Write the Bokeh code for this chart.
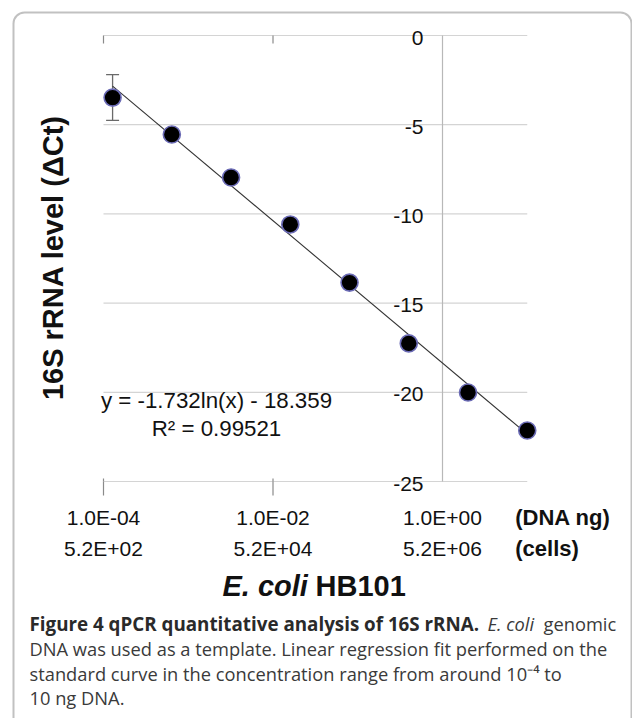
import numpy as np
from bokeh.plotting import figure
from bokeh.models import Range1d, ColumnDataSource, Whisker, TeeHead, BoxAnnotation
from bokeh.core.properties import value
from bokeh.embed import file_html
from bokeh.resources import INLINE

# ---------------- data ----------------
dna_ng = [1.28e-4, 6.4e-4, 3.2e-3, 1.6e-2, 8.0e-2, 0.4, 2.0, 10.0]
delta_ct = [-3.48, -5.55, -7.96, -10.59, -13.85, -17.26, -20.01, -22.14]
err_x = [1.28e-4]
err_upper = [-2.19]
err_lower = [-4.76]
fit_slope = -1.732
fit_intercept = -18.359
r_squared = 0.99521
x_ticks = [1e-4, 1e-2, 1.0]
x_tick_labels_ng = ["1.0E-04", "1.0E-02", "1.0E+00"]
x_tick_labels_cells = ["5.2E+02", "5.2E+04", "5.2E+06"]
x_unit_ng = "(DNA ng)"
x_unit_cells = "(cells)"
y_ticks = [0, -5, -10, -15, -20, -25]
y_tick_labels = ["0", "-5", "-10", "-15", "-20", "-25"]
x_min, x_max = 1e-4, 10.0
y_min, y_max = -25, 0
y_label = "16S rRNA level (\u0394Ct)"
title_ital = "E. coli"
title_rest = "HB101"
cap1_bold = "Figure 4 qPCR quantitative analysis of 16S rRNA."
cap1_ital = "E. coli"
cap1_rest = "genomic"
cap2 = "DNA was used as a template. Linear regression fit performed on the"
cap3 = "standard curve in the concentration range from around 10\u207b\u2074 to"
cap4 = "10 ng DNA."

# ---------------- layout ----------------
W, H = 632, 718
PX_DEC = 84.75      # pixels per decade on x
PX_UNIT = 17.84     # pixels per ΔCt unit on y
X0_PX = 103         # canvas x of x_min
Y0_PX = 35          # canvas y of y_max
log_left = np.log10(x_min) - X0_PX / PX_DEC
log_right = log_left + W / PX_DEC
y_top = y_max + Y0_PX / PX_UNIT
y_bot = y_top - H / PX_UNIT

def dx(px):
    return 10 ** (log_left + px / PX_DEC)

def dy(py):
    return y_top - py / PX_UNIT

p = figure(width=W, height=H, x_axis_type="log",
           x_range=Range1d(10 ** log_left, 10 ** log_right),
           y_range=Range1d(y_bot, y_top),
           x_axis_location=None, y_axis_location=None,
           toolbar_location=None, output_backend="svg",
           min_border=0, outline_line_color=None)
p.grid.visible = False
p.background_fill_color = "white"
p.border_fill_color = "white"

ARIAL = value("Liberation Sans")
CAP = value("Open Sans")

# frame box
p.add_layout(BoxAnnotation(left=dx(13), right=dx(631), top=dy(12), bottom=dy(790),
                           fill_color=None, line_color="#333333", line_width=2,
                           border_radius=11, level="underlay"))

# grid lines
p.segment(x0=[x_min] * len(y_ticks), x1=[x_max] * len(y_ticks), y0=y_ticks, y1=y_ticks,
          line_color="#d4d4d4", line_width=1.2)
# vertical axis line at x = 1
p.segment(x0=[1.0], x1=[1.0], y0=[y_min], y1=[y_max], line_color="#b8b8b8", line_width=1.2)
# tick marks
p.ray(x=x_ticks[:2], y=[y_max] * 2, length=8, angle=-np.pi / 2, length_units="screen",
      line_color="#8a8a8a", line_width=1.2)
p.ray(x=x_ticks[:2], y=[y_min] * 2, length=14, angle=-np.pi / 2, length_units="screen",
      line_color="#8a8a8a", line_width=1.2)
p.ray(x=x_ticks[:2], y=[y_min] * 2, length=3, angle=np.pi / 2, length_units="screen",
      line_color="#8a8a8a", line_width=1.2)

# y tick labels
p.text(x=[1.0] * len(y_ticks), y=y_ticks, text=y_tick_labels, x_offset=-19, y_offset=2,
       text_align="right", text_baseline="middle", text_font=ARIAL,
       text_font_size="21px", text_color="#111111")
# x tick labels
p.text(x=x_ticks, y=[y_min] * 3, text=x_tick_labels_ng, y_offset=36,
       text_align="center", text_baseline="middle", text_font=ARIAL,
       text_font_size="21px", text_color="#111111")
p.text(x=x_ticks, y=[y_min] * 3, text=x_tick_labels_cells, y_offset=67,
       text_align="center", text_baseline="middle", text_font=ARIAL,
       text_font_size="21px", text_color="#111111")
p.text(x=[x_max], y=[y_min], text=[x_unit_ng], x_offset=-12, y_offset=36,
       text_align="left", text_baseline="middle", text_font=ARIAL,
       text_font_size="22px", text_font_style="bold", text_color="#111111")
p.text(x=[x_max], y=[y_min], text=[x_unit_cells], x_offset=-12, y_offset=67,
       text_align="left", text_baseline="middle", text_font=ARIAL,
       text_font_size="22px", text_font_style="bold", text_color="#111111")

# error bar
src_err = ColumnDataSource(dict(base=err_x, upper=err_upper, lower=err_lower))
p.add_layout(Whisker(source=src_err, base="base", upper="upper", lower="lower",
                     dimension="height", line_color="#6a6a6a", line_width=1.3,
                     upper_head=TeeHead(size=13, line_color="#6a6a6a", line_width=1.3),
                     lower_head=TeeHead(size=13, line_color="#6a6a6a", line_width=1.3)))

# fit line
x_fit = np.array([dna_ng[0], dna_ng[-1]])
y_fit = fit_slope * np.log(x_fit) + fit_intercept
p.line(x_fit, y_fit, line_color="#333333", line_width=1.1)

# points
p.scatter(dna_ng, delta_ct, size=17, fill_color="black", line_color="#6b6bb5", line_width=1.6)

def txt(px, py, s, size, font=ARIAL, style="normal", align="left", color="#111111", angle=0.0):
    p.text(x=[dx(px)], y=[dy(py)], text=[s], text_font=font, text_font_size=f"{size}px",
           text_font_style=style, text_align=align, text_baseline="middle",
           text_color=color, angle=angle)

# equation
txt(216, 400, f"y = {fit_slope}ln(x) - {abs(fit_intercept)}", 22.3, align="center")
txt(216, 428, f"R\u00b2 = {r_squared}", 22.3, align="center")

# y label
txt(52, 257, y_label, 29, style="bold", align="center", angle=np.pi / 2)

# x title
txt(222, 585, title_ital, 29, style="bold italic")
txt(315, 585, title_rest, 29, style="bold")

# caption
txt(29, 623, cap1_bold, 18.8, font=CAP, style="bold", color="#2a2a2a")
txt(487, 623, cap1_ital, 18.3, font=CAP, style="italic", color="#3a3a3a")
txt(543, 623, cap1_rest, 18.3, font=CAP, color="#3a3a3a")
txt(29, 648, cap2, 18.3, font=CAP, color="#3a3a3a")
txt(29, 673, cap3, 18.3, font=CAP, color="#3a3a3a")
txt(29, 697, cap4, 18.3, font=CAP, color="#3a3a3a")

open("out.html", "w").write(file_html(p, INLINE))
